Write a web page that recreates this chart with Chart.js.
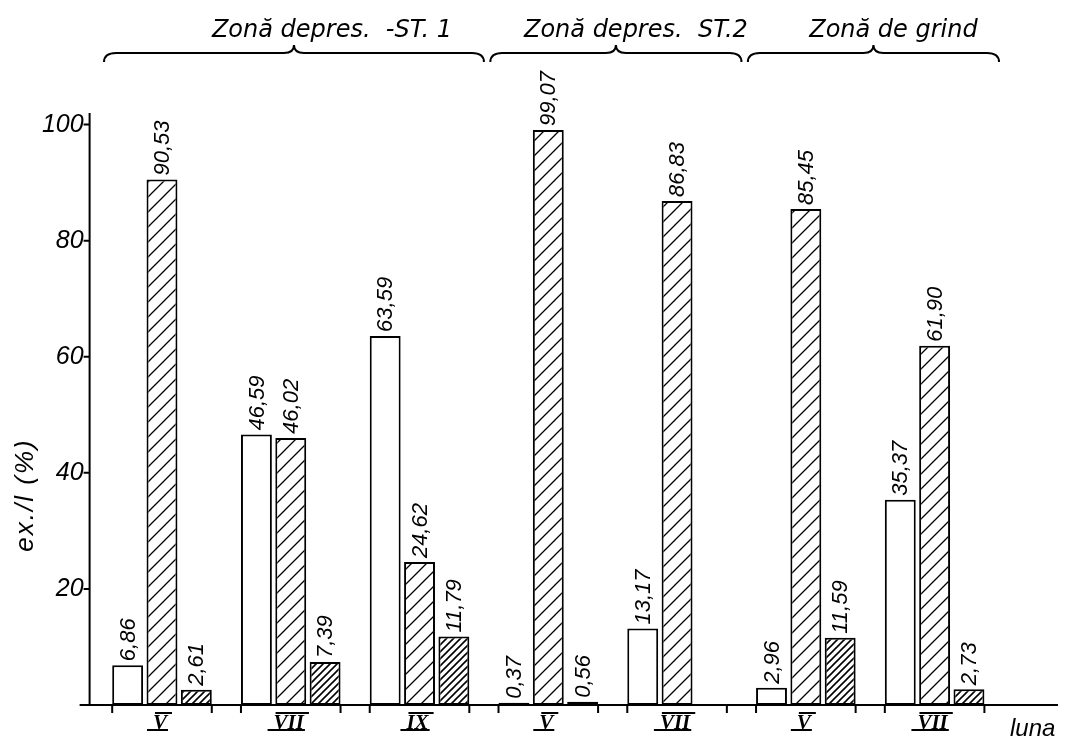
<!DOCTYPE html>
<html>
<head>
<meta charset="utf-8">
<script src="https://cdn.jsdelivr.net/npm/chart.js@4.4.1/dist/chart.umd.min.js"></script>
<style>
  html, body { margin: 0; padding: 0; background: #fff; }
</style>
</head>
<body>
<canvas id="chart" width="1074" height="741"></canvas>
<script>
// month of sampling (roman numerals), one group per month
const months = ['V', 'VII', 'IX', 'V', 'VII', 'V', 'VII'];
// ex./l (%) for the three forms
const whiteVals = [6.86, 46.59, 63.59, 0.37, 13.17, 2.96, 35.37];
const hatchVals = [90.53, 46.02, 24.62, 99.07, 86.83, 85.45, 61.90];
const denseVals = [2.61, 7.39, 11.79, 0.56, null, 11.59, 2.73];
const yTicks = [20, 40, 60, 80, 100];
// zones over the groups (first, last group index)
const zoneNames = ['Zonă depres.  -ST. 1', 'Zonă depres.  ST.2', 'Zonă de grind'];
const zoneFirst = [0, 3, 5];
const zoneLast = [2, 4, 6];

const canvas = document.getElementById('chart');
const ctx = canvas.getContext('2d');
const handFont = '"Liberation Sans", "DejaVu Sans", sans-serif';

// diagonal hatch pattern, lines rising to the right
function hatch(step, lw) {
    const c = document.createElement('canvas');
    c.width = step; c.height = step;
    const g = c.getContext('2d');
    g.fillStyle = '#fff';
    g.fillRect(0, 0, step, step);
    g.strokeStyle = '#000';
    g.lineWidth = lw;
    g.beginPath();
    g.moveTo(-1, step + 1); g.lineTo(step + 1, -1);
    g.moveTo(-2, 2); g.lineTo(2, -2);
    g.moveTo(step - 2, step + 2); g.lineTo(step + 2, step - 2);
    g.stroke();
    return ctx.createPattern(c, 'repeat');
}

function brace(c, x0, x1, yl) {
    const mid = (x0 + x1) / 2;
    c.beginPath();
    c.moveTo(x0, yl + 9);
    c.quadraticCurveTo(x0, yl, x0 + 12, yl);
    c.lineTo(mid - 10, yl);
    c.quadraticCurveTo(mid, yl, mid, yl - 8);
    c.quadraticCurveTo(mid, yl, mid + 10, yl);
    c.lineTo(x1 - 12, yl);
    c.quadraticCurveTo(x1, yl, x1, yl + 9);
    c.stroke();
}

const decor = {
    id: 'decor',
    afterDraw(chart) {
        const c = chart.ctx;
        const area = chart.chartArea;
        const xs = chart.scales.x, ys = chart.scales.y;
        const axisX = area.left - 8;
        c.save();
        c.strokeStyle = '#000';
        c.fillStyle = '#000';
        c.lineWidth = 2;

        // axes
        c.beginPath();
        c.moveTo(axisX, area.top);
        c.lineTo(axisX, area.bottom);
        c.moveTo(axisX - 10, area.bottom);
        c.lineTo(chart.width - 16, area.bottom);
        yTicks.forEach(v => {
            const py = ys.getPixelForValue(v);
            c.moveTo(axisX - 6, py);
            c.lineTo(axisX, py);
        });
        // small ticks at the edges of each group
        const m0 = chart.getDatasetMeta(0);
        months.forEach((m, i) => {
            const cx = xs.getPixelForValue(i);
            const left = m0.data[i].x - m0.data[i].width / 2;
            const right = 2 * cx - left;
            c.moveTo(left, area.bottom); c.lineTo(left, area.bottom + 8);
            c.moveTo(right, area.bottom); c.lineTo(right, area.bottom + 8);
        });
        c.stroke();

        // roman numerals with bars over and under
        c.font = 'italic bold 21px "Liberation Serif"';
        c.textAlign = 'center';
        c.textBaseline = 'alphabetic';
        c.lineWidth = 1.8;
        c.beginPath();
        months.forEach((m, i) => {
            const cx = xs.getPixelForValue(i) - 2;
            const w = c.measureText(m).width;
            c.fillText(m, cx, area.bottom + 24);
            c.moveTo(cx - w / 2 + 2, area.bottom + 8);
            c.lineTo(cx + w / 2 + 5, area.bottom + 8);
            c.moveTo(cx - w / 2 - 6, area.bottom + 25);
            c.lineTo(cx + w / 2 + 1, area.bottom + 25);
        });
        c.stroke();

        // value labels, written upwards
        c.font = 'italic 22px ' + handFont;
        c.textAlign = 'left';
        c.textBaseline = 'middle';
        [whiteVals, hatchVals, denseVals].forEach((vals, d) => {
            const meta = chart.getDatasetMeta(d);
            vals.forEach((v, i) => {
                if (v == null) return;
                const bar = meta.data[i];
                c.save();
                c.translate(bar.x + 1, bar.y - 4);
                c.rotate(-Math.PI / 2);
                c.fillText(v.toFixed(2).replace('.', ','), 0, 0);
                c.restore();
            });
        });

        // axis titles
        c.font = 'italic 26px ' + handFont;
        c.textAlign = 'center';
        c.save();
        c.translate(26, 495);
        c.rotate(-Math.PI / 2);
        c.letterSpacing = '2px';
        c.fillText('ex./l (%)', 0, 0);
        c.restore();
        c.font = 'italic 24px ' + handFont;
        c.textAlign = 'left';
        c.textBaseline = 'alphabetic';
        c.fillText('luna', chart.width - 64, area.bottom + 31);

        // zone braces and names
        c.lineWidth = 2;
        c.font = 'oblique 24px "DejaVu Sans"';
        c.textAlign = 'center';
        zoneNames.forEach((name, k) => {
            const slot = xs.getPixelForValue(1) - xs.getPixelForValue(0);
            const x0 = xs.getPixelForValue(zoneFirst[k]) - slot * 0.45;
            const x1 = xs.getPixelForValue(zoneLast[k]) + slot * 0.5;
            brace(c, x0, x1, 53);
            c.fillText(name, (x0 + x1) / 2 + (k === 0 ? 38 : 20), 37);
        });
        c.restore();
    }
};

new Chart(ctx, {
    type: 'bar',
    data: {
        labels: months,
        datasets: [
            { data: whiteVals, backgroundColor: '#fff', borderColor: '#000', borderWidth: 2, borderSkipped: false },
            { data: hatchVals, backgroundColor: hatch(15, 1.3), borderColor: '#000', borderWidth: 2, borderSkipped: false },
            { data: denseVals, backgroundColor: hatch(7, 1.6), borderColor: '#000', borderWidth: 2, borderSkipped: false }
        ]
    },
    options: {
        responsive: false,
        animation: false,
        layout: { padding: { left: 0, right: 75, top: 113, bottom: 0 } },
        plugins: {
            legend: { display: false },
            tooltip: { enabled: false }
        },
        datasets: { bar: { categoryPercentage: 0.8, barPercentage: 0.9 } },
        scales: {
            x: {
                grid: { display: false },
                border: { display: false },
                ticks: { display: false },
                afterFit: s => { s.height = 36; }
            },
            y: {
                min: 0,
                max: 102,
                grid: { display: false },
                border: { display: false },
                afterBuildTicks: s => { s.ticks = yTicks.map(v => ({ value: v })); },
                ticks: {
                    color: '#000',
                    padding: 6,
                    font: { family: 'Liberation Sans', style: 'italic', size: 25 }
                },
                afterFit: s => { s.width = 97.6; }
            }
        }
    },
    plugins: [decor]
});
</script>
</body>
</html>
